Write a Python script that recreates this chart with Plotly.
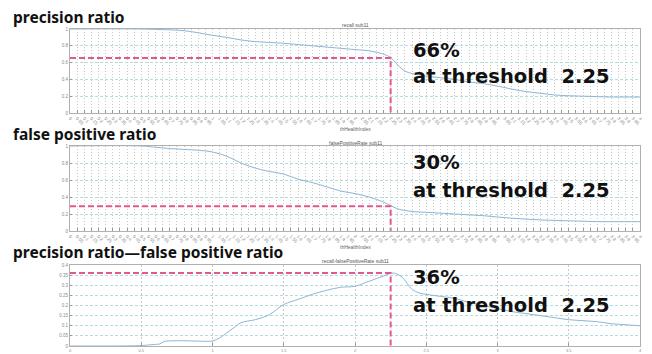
import plotly.graph_objects as go

W, H = 652, 354

# ---------------- data ----------------
recall_x = [0, 0.5, 0.6, 0.7, 0.8, 0.9, 1.0, 1.1, 1.2, 1.3, 1.4, 1.5, 1.6, 1.7, 1.8, 1.9,
            2.0, 2.1, 2.2, 2.25, 2.3, 2.35, 2.4, 2.5, 2.6, 2.7, 2.8, 2.9, 3.0, 3.1, 3.2,
            3.3, 3.4, 3.5, 3.6, 3.7, 3.8, 3.9, 4.0]
recall_y = [1.0, 1.0, 0.995, 0.99, 0.98, 0.955, 0.925, 0.9, 0.87, 0.85, 0.84, 0.83, 0.815,
            0.8, 0.785, 0.77, 0.755, 0.74, 0.7, 0.66, 0.57, 0.5, 0.47, 0.44, 0.42, 0.4,
            0.37, 0.35, 0.32, 0.285, 0.255, 0.235, 0.215, 0.205, 0.2, 0.195, 0.19, 0.19, 0.19]

fpr_x = [0, 0.5, 0.6, 0.7, 0.8, 0.9, 1.0, 1.1, 1.2, 1.3, 1.4, 1.5, 1.6, 1.7, 1.8, 1.9,
         2.0, 2.1, 2.2, 2.25, 2.3, 2.4, 2.5, 2.6, 2.7, 2.8, 2.9, 3.0, 3.1, 3.2, 3.3,
         3.4, 3.5, 3.6, 3.7, 3.8, 3.9, 4.0]
fpr_y = [1.0, 1.0, 0.985, 0.97, 0.96, 0.95, 0.93, 0.88, 0.8, 0.74, 0.7, 0.67, 0.61, 0.57,
         0.52, 0.47, 0.44, 0.4, 0.34, 0.3, 0.26, 0.23, 0.22, 0.21, 0.2, 0.19, 0.18, 0.165,
         0.15, 0.14, 0.13, 0.125, 0.12, 0.115, 0.11, 0.11, 0.11, 0.11]

diff_x = [0, 0.3, 0.5, 0.55, 0.6, 0.63, 0.66, 0.7, 0.8, 0.9, 1.0, 1.05, 1.1, 1.15, 1.2,
          1.3, 1.4, 1.5, 1.6, 1.7, 1.8, 1.9, 2.0, 2.1, 2.2, 2.27, 2.33, 2.4, 2.45, 2.5,
          2.6, 2.7, 2.8, 2.9, 3.0, 3.1, 3.2, 3.3, 3.4, 3.5, 3.6, 3.7, 3.8, 3.9, 4.0]
diff_y = [0.0, 0.0, 0.002, 0.005, 0.008, 0.01, 0.022, 0.025, 0.026, 0.024, 0.025, 0.04,
          0.065, 0.09, 0.115, 0.13, 0.155, 0.205, 0.23, 0.255, 0.275, 0.29, 0.295, 0.32,
          0.345, 0.36, 0.34, 0.28, 0.262, 0.255, 0.245, 0.235, 0.215, 0.2, 0.185, 0.17,
          0.16, 0.15, 0.14, 0.13, 0.125, 0.12, 0.11, 0.105, 0.1]

threshold = 2.25
marker_vals = [0.655, 0.29, 0.36]          # red dashed level per panel
big_pct = ["66%", "30%", "36%"]
big_titles = ["precision ratio", "false positive ratio", "precision ratio\u2014false positive ratio"]
small_titles = ["recall sub11", "falsePositiveRate sub11", "recall-falsePositiveRate sub11"]
xlabel = "thHealthIndex"

dense_ticks = [round(i * 0.05, 2) for i in range(81)]
dense_labels = [("%g" % v) for v in dense_ticks]
coarse_ticks = [0, 0.5, 1, 1.5, 2, 2.5, 3, 3.5, 4]
coarse_labels = ["0", "0.5", "1", "1.5", "2", "2.5", "3", "3.5", "4"]
y_ticks_12 = [0, 0.2, 0.4, 0.6, 0.8, 1]
y_labels_12 = ["0", "0.2", "0.4", "0.6", "0.8", "1"]
y_ticks_3 = [0, 0.05, 0.1, 0.15, 0.2, 0.25, 0.3, 0.35, 0.4]
y_labels_3 = ["0", "0.05", "0.1", "0.15", "0.2", "0.25", "0.3", "0.35", "0.4"]

# ---------------- layout helpers ----------------
def px(x):
    return x / W

def py(y):
    return 1 - y / H

x_dom = [px(70), px(640)]
y_doms = [[py(113), py(29)], [py(231), py(146)], [py(346), py(265)]]

CURVE = "#8db6d6"
RED = "#e4578a"
GRID_V = "#c8c8c8"
GRID_H = "#b4dcdc"
TXT = "#111111"

fig = go.Figure()
series = [(recall_x, recall_y), (fpr_x, fpr_y), (diff_x, diff_y)]
for i, (sx, sy) in enumerate(series):
    xa = "x" if i == 0 else "x%d" % (i + 1)
    ya = "y" if i == 0 else "y%d" % (i + 1)
    fig.add_trace(go.Scatter(x=sx, y=sy, mode="lines", xaxis=xa, yaxis=ya,
                             line=dict(color=CURVE, width=1), line_shape="spline",
                             showlegend=False, hoverinfo="skip"))
    fig.add_trace(go.Scatter(x=[0, threshold, threshold],
                             y=[marker_vals[i], marker_vals[i], 0],
                             mode="lines", xaxis=xa, yaxis=ya,
                             line=dict(color=RED, width=2, dash="6px,3px"),
                             showlegend=False, hoverinfo="skip"))

layout = dict(width=W, height=H, margin=dict(l=0, r=0, t=0, b=0),
              paper_bgcolor="white", plot_bgcolor="white", showlegend=False)

for i in range(3):
    xk = "xaxis" if i == 0 else "xaxis%d" % (i + 1)
    yk = "yaxis" if i == 0 else "yaxis%d" % (i + 1)
    anchor_y = "y" if i == 0 else "y%d" % (i + 1)
    anchor_x = "x" if i == 0 else "x%d" % (i + 1)
    if i < 2:
        tv, tt, ang = dense_ticks, dense_labels, 45
        yv, yt, yr = y_ticks_12, y_labels_12, [0, 1]
        xgd = "1px,2px"
        tf = 4.5
    else:
        tv, tt, ang = coarse_ticks, coarse_labels, 0
        yv, yt, yr = y_ticks_3, y_labels_3, [0, 0.4]
        xgd = "2px,2px"
        tf = 4
    layout[xk] = dict(domain=x_dom, anchor=anchor_y, range=[0, 4], tickmode="array",
                      tickvals=tv, ticktext=tt, tickangle=ang,
                      tickfont=dict(size=tf, color="#888888", family="Liberation Sans"),
                      showgrid=True, gridcolor=GRID_V, griddash=xgd, gridwidth=1,
                      ticks="inside", ticklen=3, tickcolor="#999999",
                      showline=True, linecolor="#b0b0b0", linewidth=1, mirror=True,
                      zeroline=False, automargin=False, fixedrange=True)
    layout[yk] = dict(domain=y_doms[i], anchor=anchor_x, range=yr, tickmode="array",
                      tickvals=yv, ticktext=yt,
                      tickfont=dict(size=4.5, color="#888888", family="Liberation Sans"),
                      showgrid=True, gridcolor=GRID_H, griddash="3px,2px", gridwidth=1,
                      ticks="inside", ticklen=2, tickcolor="#999999",
                      showline=True, linecolor="#b0b0b0", linewidth=1, mirror=True,
                      zeroline=False, automargin=False, fixedrange=True)

fig.update_layout(**layout)

ann = []
title_y = [17, 134, 252.5]
small_title_y = [25, 143, 261]
xlabel_y = [129, 247]
pct_y = [50, 162, 277]
thr_y = [76, 190, 305]
for i in range(3):
    ann.append(dict(x=px(11), y=py(title_y[i]), xref="paper", yref="paper",
                    text=big_titles[i], showarrow=False, xanchor="left", yanchor="middle",
                    font=dict(family="Noto Sans", size=15.5, color=TXT, weight="bold")))
    ann.append(dict(x=px(355), y=py(small_title_y[i]), xref="paper", yref="paper",
                    text=small_titles[i], showarrow=False, xanchor="center", yanchor="middle",
                    font=dict(family="Liberation Sans", size=5, color="#555555")))
    ann.append(dict(x=px(411), y=py(pct_y[i]), xref="paper", yref="paper",
                    text=big_pct[i], showarrow=False, xanchor="left", yanchor="middle",
                    font=dict(family="DejaVu Sans", size=19.5, color=TXT, weight="bold")))
    ann.append(dict(x=px(411), y=py(thr_y[i]), xref="paper", yref="paper",
                    text="at threshold  %.2f" % threshold, showarrow=False,
                    xanchor="left", yanchor="middle",
                    font=dict(family="DejaVu Sans", size=19.5, color=TXT, weight="bold")))
for i in range(2):
    ann.append(dict(x=px(355), y=py(xlabel_y[i]), xref="paper", yref="paper",
                    text=xlabel, showarrow=False, xanchor="center", yanchor="middle",
                    font=dict(family="Liberation Sans", size=5, color="#666666")))
fig.update_layout(annotations=ann)

fig.write_html("out.html")
